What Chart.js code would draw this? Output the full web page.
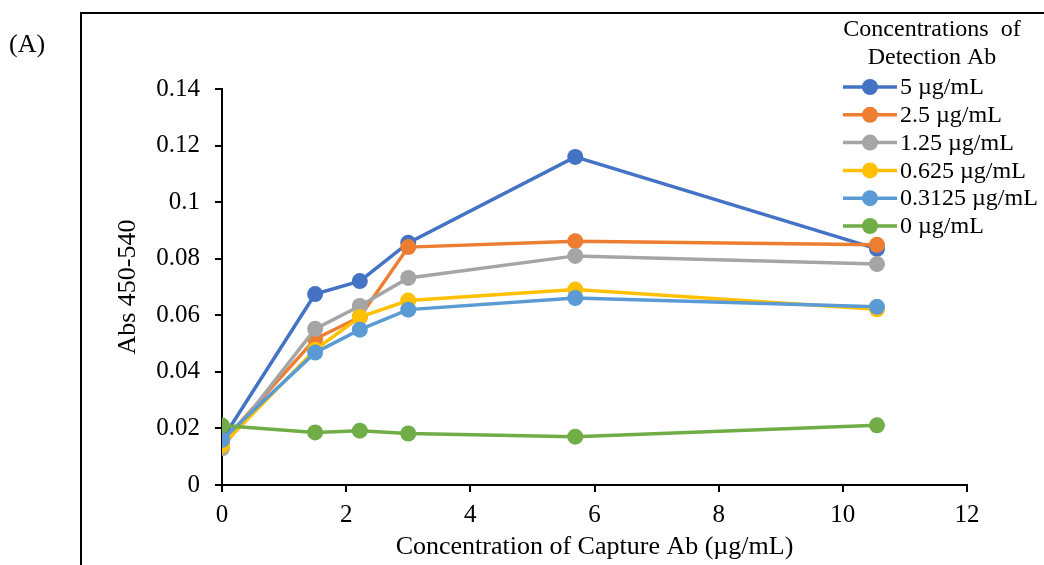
<!DOCTYPE html>
<html>
<head>
<meta charset="utf-8">
<script src="https://cdn.jsdelivr.net/npm/chart.js@4/dist/chart.umd.min.js"></script>
<style>
  html, body { margin: 0; padding: 0; background: #fff; }
  #wrap { width: 1044px; height: 565px; }
</style>
</head>
<body>
<div id="wrap"><canvas id="absChart" width="1044" height="565"></canvas></div>
<script>
// capture Ab concentrations (x) shared by all series
const captureConc = [0, 1.5, 2.22, 3, 5.69, 10.55];

const seriesNames = ['5 \u00b5g/mL', '2.5 \u00b5g/mL', '1.25 \u00b5g/mL', '0.625 \u00b5g/mL', '0.3125 \u00b5g/mL', '0 \u00b5g/mL'];
const seriesColors = ['#4472C4', '#ED7D31', '#A5A5A5', '#FFC000', '#5B9BD5', '#70AD47'];

const det5 = [0.016, 0.0675, 0.0721, 0.0856, 0.116, 0.0835];
const det2_5 = [0.015, 0.0516, 0.0594, 0.0841, 0.0862, 0.0849];
const det1_25 = [0.013, 0.0552, 0.0633, 0.0732, 0.081, 0.0781];
const det0_625 = [0.014, 0.0478, 0.0594, 0.0652, 0.0691, 0.0621];
const det0_3125 = [0.016, 0.0468, 0.0549, 0.0620, 0.0661, 0.0630];
const det0 = [0.021, 0.0186, 0.0192, 0.0182, 0.0171, 0.0211];

const seriesValues = [det5, det2_5, det1_25, det0_625, det0_3125, det0];

const xTicks = [0, 2, 4, 6, 8, 10, 12];
const yTicks = [0, 0.02, 0.04, 0.06, 0.08, 0.1, 0.12, 0.14];
const yTickLabels = ['0', '0.02', '0.04', '0.06', '0.08', '0.1', '0.12', '0.14'];

const serif = '"Liberation Serif", "Times New Roman", serif';

// frame line + "(A)" panel label
const framePlugin = {
    id: 'frame',
    beforeDraw(chart) {
        const c = chart.ctx;
        c.save();
        c.strokeStyle = '#000';
        c.lineWidth = 2;
        c.beginPath();
        c.moveTo(81, 565);
        c.lineTo(81, 13);
        c.lineTo(1044, 13);
        c.stroke();
        c.fillStyle = '#000';
        c.font = '26px ' + serif;
        c.textBaseline = 'middle';
        c.textAlign = 'left';
        c.fillText('(A)', 9, 45);
        c.restore();
    }
};

// Excel style legend with line + marker, overlapping plot on the right
const legendPlugin = {
    id: 'excelLegend',
    afterDraw(chart) {
        const c = chart.ctx;
        c.save();
        c.fillStyle = '#000';
        c.font = '24px ' + serif;
        c.textAlign = 'center';
        c.textBaseline = 'middle';
        c.fillText('Concentrations  of', 932, 30);
        c.fillText('Detection Ab', 932, 58);
        c.textAlign = 'left';
        seriesNames.forEach(function (name, i) {
            const y = 87 + i * 27.8;
            c.strokeStyle = seriesColors[i];
            c.lineWidth = 3.5;
            c.beginPath();
            c.moveTo(843, y);
            c.lineTo(897, y);
            c.stroke();
            c.fillStyle = seriesColors[i];
            c.beginPath();
            c.arc(870, y, 8, 0, Math.PI * 2);
            c.fill();
            c.fillStyle = '#000';
            c.fillText(name, 900, y + 1);
        });
        c.restore();
    }
};

const ctx = document.getElementById('absChart').getContext('2d');

new Chart(ctx, {
    type: 'line',
    data: {
        datasets: seriesNames.map(function (name, i) {
            return {
                label: name,
                data: captureConc.map(function (x, j) { return { x: x, y: seriesValues[i][j] }; }),
                borderColor: seriesColors[i],
                backgroundColor: seriesColors[i],
                borderWidth: 3.5,
                pointRadius: 8,
                pointHoverRadius: 8,
                pointBorderWidth: 0,
                tension: 0,
                fill: false,
                order: seriesNames.length - i // later series on top like Excel
            };
        })
    },
    options: {
        responsive: false,
        animation: false,
        layout: {
            padding: { left: 110, right: 77, top: 89, bottom: 0 }
        },
        plugins: {
            legend: { display: false },
            tooltip: { enabled: false }
        },
        scales: {
            x: {
                type: 'linear',
                min: 0,
                max: 12,
                afterBuildTicks: function (scale) {
                    scale.ticks = xTicks.map(function (v) { return { value: v }; });
                },
                afterFit: function (scale) { scale.height = 80; },
                border: { display: true, color: '#000', width: 2 },
                grid: { display: true, drawOnChartArea: false, drawTicks: true, tickLength: 7, color: '#000', lineWidth: 2 },
                ticks: {
                    color: '#000',
                    padding: 8,
                    maxRotation: 0,
                    font: { family: serif, size: 25 }
                },
                title: {
                    display: true,
                    text: 'Concentration of Capture Ab (\u00b5g/mL)',
                    color: '#000',
                    padding: { top: 0, bottom: 2 },
                    font: { family: serif, size: 26 }
                }
            },
            y: {
                type: 'linear',
                min: 0,
                max: 0.14,
                afterBuildTicks: function (scale) {
                    scale.ticks = yTicks.map(function (v) { return { value: v }; });
                },
                afterFit: function (scale) { scale.width = 112; },
                border: { display: true, color: '#000', width: 2 },
                grid: { display: true, drawOnChartArea: false, drawTicks: true, tickLength: 7, color: '#000', lineWidth: 2 },
                ticks: {
                    color: '#000',
                    padding: 15,
                    font: { family: serif, size: 25 },
                    callback: function (value, index) { return yTickLabels[index]; }
                },
                title: {
                    display: true,
                    text: 'Abs 450-540',
                    color: '#000',
                    padding: { top: 3, bottom: 0 },
                    font: { family: serif, size: 26 }
                }
            }
        }
    },
    plugins: [framePlugin, legendPlugin]
});
</script>
</body>
</html>
